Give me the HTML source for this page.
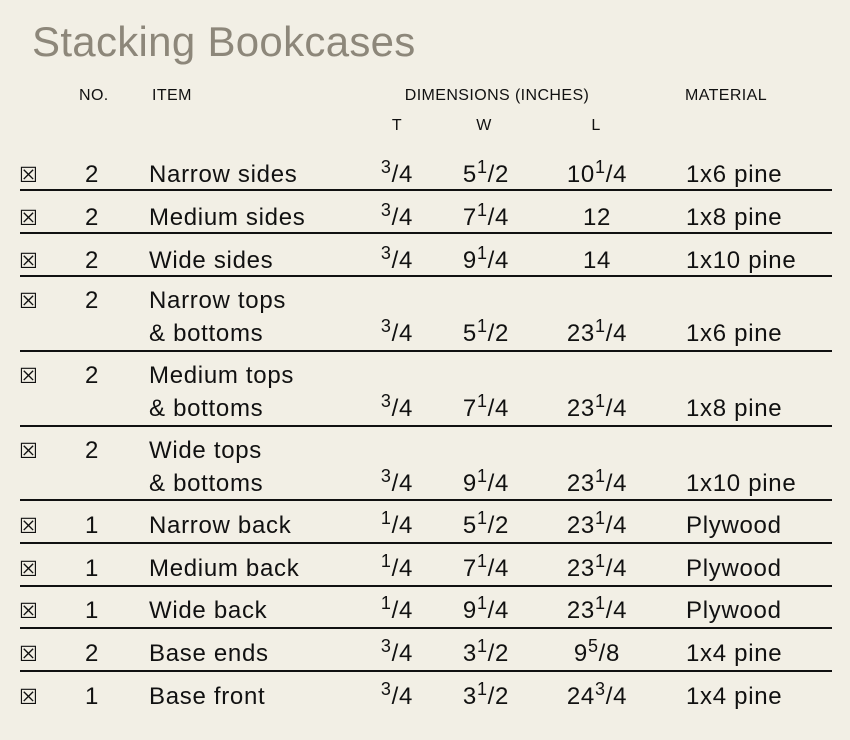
<!DOCTYPE html>
<html><head><meta charset="utf-8"><style>
html,body{margin:0;padding:0;background:#f2efe5;}
svg{display:block;}
text{font-family:"Liberation Sans",sans-serif;fill:#111;}
.b{font-size:24px;letter-spacing:0.7px;}
.h{font-size:16px;letter-spacing:0.4px;}
.c{text-anchor:middle;}
.cb{font-family:"DejaVu Sans",sans-serif;font-size:21px;}
</style></head><body>
<svg width="850" height="740" viewBox="0 0 850 740">
<rect width="850" height="740" fill="#f2efe5"/>
<text x="32" y="56" style="font-size:42px;fill:#8d877a;letter-spacing:0.3px">Stacking Bookcases</text>
<g class="h">
<text x="79" y="100" class="h">NO.</text>
<text x="152" y="100" class="h">ITEM</text>
<text x="497" y="100" class="h c">DIMENSIONS (INCHES)</text>
<text x="685" y="100" class="h">MATERIAL</text>
<text x="397" y="130" class="h c">T</text>
<text x="484" y="130" class="h c">W</text>
<text x="596" y="130" class="h c">L</text>
</g>
<g stroke="#111" stroke-width="2">
<line x1="20" x2="832" y1="190" y2="190"/>
<line x1="20" x2="832" y1="233" y2="233"/>
<line x1="20" x2="832" y1="276" y2="276"/>
<line x1="20" x2="832" y1="351" y2="351"/>
<line x1="20" x2="832" y1="426" y2="426"/>
<line x1="20" x2="832" y1="500" y2="500"/>
<line x1="20" x2="832" y1="543" y2="543"/>
<line x1="20" x2="832" y1="586" y2="586"/>
<line x1="20" x2="832" y1="628" y2="628"/>
<line x1="20" x2="832" y1="671" y2="671"/>
</g>
<g id="rows">
<text class="cb" x="19" y="182">☒</text><text class="b c" x="92" y="182">2</text><text class="b" x="149" y="182">Narrow sides</text>
<text class="b c" x="397" y="182"><tspan font-size="18" dy="-9">3</tspan><tspan dy="9">/4</tspan></text>
<text class="b c" x="486" y="182">5<tspan font-size="18" dy="-9">1</tspan><tspan dy="9">/2</tspan></text>
<text class="b c" x="597" y="182">10<tspan font-size="18" dy="-9">1</tspan><tspan dy="9">/4</tspan></text>
<text class="b" x="686" y="182">1x6 pine</text>

<text class="cb" x="19" y="225">☒</text><text class="b c" x="92" y="225">2</text><text class="b" x="149" y="225">Medium sides</text>
<text class="b c" x="397" y="225"><tspan font-size="18" dy="-9">3</tspan><tspan dy="9">/4</tspan></text>
<text class="b c" x="486" y="225">7<tspan font-size="18" dy="-9">1</tspan><tspan dy="9">/4</tspan></text>
<text class="b c" x="597" y="225">12</text>
<text class="b" x="686" y="225">1x8 pine</text>

<text class="cb" x="19" y="268">☒</text><text class="b c" x="92" y="268">2</text><text class="b" x="149" y="268">Wide sides</text>
<text class="b c" x="397" y="268"><tspan font-size="18" dy="-9">3</tspan><tspan dy="9">/4</tspan></text>
<text class="b c" x="486" y="268">9<tspan font-size="18" dy="-9">1</tspan><tspan dy="9">/4</tspan></text>
<text class="b c" x="597" y="268">14</text>
<text class="b" x="686" y="268">1x10 pine</text>

<text class="cb" x="19" y="308">☒</text><text class="b c" x="92" y="308">2</text><text class="b" x="149" y="308">Narrow tops</text><text class="b" x="149" y="341">&amp; bottoms</text>
<text class="b c" x="397" y="341"><tspan font-size="18" dy="-9">3</tspan><tspan dy="9">/4</tspan></text>
<text class="b c" x="486" y="341">5<tspan font-size="18" dy="-9">1</tspan><tspan dy="9">/2</tspan></text>
<text class="b c" x="597" y="341">23<tspan font-size="18" dy="-9">1</tspan><tspan dy="9">/4</tspan></text>
<text class="b" x="686" y="341">1x6 pine</text>

<text class="cb" x="19" y="383">☒</text><text class="b c" x="92" y="383">2</text><text class="b" x="149" y="383">Medium tops</text><text class="b" x="149" y="416">&amp; bottoms</text>
<text class="b c" x="397" y="416"><tspan font-size="18" dy="-9">3</tspan><tspan dy="9">/4</tspan></text>
<text class="b c" x="486" y="416">7<tspan font-size="18" dy="-9">1</tspan><tspan dy="9">/4</tspan></text>
<text class="b c" x="597" y="416">23<tspan font-size="18" dy="-9">1</tspan><tspan dy="9">/4</tspan></text>
<text class="b" x="686" y="416">1x8 pine</text>

<text class="cb" x="19" y="458">☒</text><text class="b c" x="92" y="458">2</text><text class="b" x="149" y="458">Wide tops</text><text class="b" x="149" y="491">&amp; bottoms</text>
<text class="b c" x="397" y="491"><tspan font-size="18" dy="-9">3</tspan><tspan dy="9">/4</tspan></text>
<text class="b c" x="486" y="491">9<tspan font-size="18" dy="-9">1</tspan><tspan dy="9">/4</tspan></text>
<text class="b c" x="597" y="491">23<tspan font-size="18" dy="-9">1</tspan><tspan dy="9">/4</tspan></text>
<text class="b" x="686" y="491">1x10 pine</text>

<text class="cb" x="19" y="533">☒</text><text class="b c" x="92" y="533">1</text><text class="b" x="149" y="533">Narrow back</text>
<text class="b c" x="397" y="533"><tspan font-size="18" dy="-9">1</tspan><tspan dy="9">/4</tspan></text>
<text class="b c" x="486" y="533">5<tspan font-size="18" dy="-9">1</tspan><tspan dy="9">/2</tspan></text>
<text class="b c" x="597" y="533">23<tspan font-size="18" dy="-9">1</tspan><tspan dy="9">/4</tspan></text>
<text class="b" x="686" y="533">Plywood</text>

<text class="cb" x="19" y="576">☒</text><text class="b c" x="92" y="576">1</text><text class="b" x="149" y="576">Medium back</text>
<text class="b c" x="397" y="576"><tspan font-size="18" dy="-9">1</tspan><tspan dy="9">/4</tspan></text>
<text class="b c" x="486" y="576">7<tspan font-size="18" dy="-9">1</tspan><tspan dy="9">/4</tspan></text>
<text class="b c" x="597" y="576">23<tspan font-size="18" dy="-9">1</tspan><tspan dy="9">/4</tspan></text>
<text class="b" x="686" y="576">Plywood</text>

<text class="cb" x="19" y="618">☒</text><text class="b c" x="92" y="618">1</text><text class="b" x="149" y="618">Wide back</text>
<text class="b c" x="397" y="618"><tspan font-size="18" dy="-9">1</tspan><tspan dy="9">/4</tspan></text>
<text class="b c" x="486" y="618">9<tspan font-size="18" dy="-9">1</tspan><tspan dy="9">/4</tspan></text>
<text class="b c" x="597" y="618">23<tspan font-size="18" dy="-9">1</tspan><tspan dy="9">/4</tspan></text>
<text class="b" x="686" y="618">Plywood</text>

<text class="cb" x="19" y="661">☒</text><text class="b c" x="92" y="661">2</text><text class="b" x="149" y="661">Base ends</text>
<text class="b c" x="397" y="661"><tspan font-size="18" dy="-9">3</tspan><tspan dy="9">/4</tspan></text>
<text class="b c" x="486" y="661">3<tspan font-size="18" dy="-9">1</tspan><tspan dy="9">/2</tspan></text>
<text class="b c" x="597" y="661">9<tspan font-size="18" dy="-9">5</tspan><tspan dy="9">/8</tspan></text>
<text class="b" x="686" y="661">1x4 pine</text>

<text class="cb" x="19" y="704">☒</text><text class="b c" x="92" y="704">1</text><text class="b" x="149" y="704">Base front</text>
<text class="b c" x="397" y="704"><tspan font-size="18" dy="-9">3</tspan><tspan dy="9">/4</tspan></text>
<text class="b c" x="486" y="704">3<tspan font-size="18" dy="-9">1</tspan><tspan dy="9">/2</tspan></text>
<text class="b c" x="597" y="704">24<tspan font-size="18" dy="-9">3</tspan><tspan dy="9">/4</tspan></text>
<text class="b" x="686" y="704">1x4 pine</text>
</g>
</svg>
</body></html>
